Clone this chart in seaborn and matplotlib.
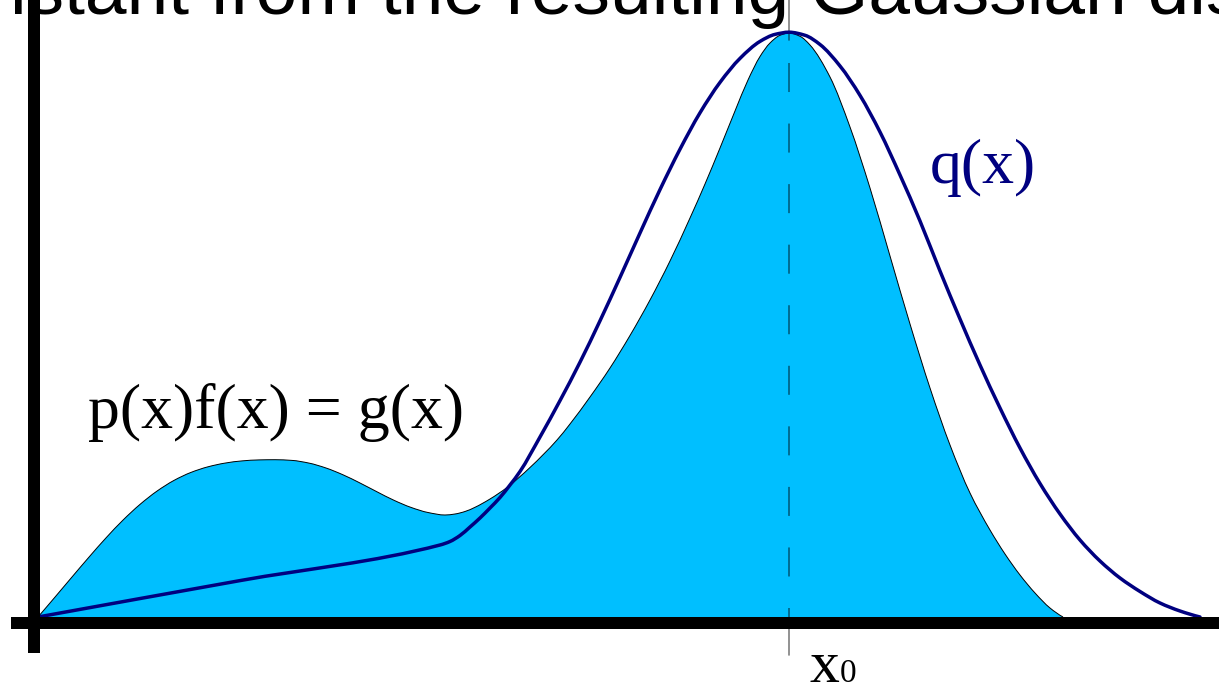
import numpy as np
import matplotlib
matplotlib.use("Agg")
import matplotlib.pyplot as plt
from matplotlib.path import Path
from matplotlib.patches import PathPatch
import seaborn as sns

# g(x) = p(x) f(x), sampled along the curve (x, height)
g_x = [0.00, 0.17, 0.34, 0.51, 0.68, 0.85, 1.02, 1.19, 1.36, 1.53, 1.70, 1.87,
       2.04, 2.21, 2.37, 2.54, 2.71, 2.88, 3.05, 3.22, 3.39, 3.56, 3.73, 3.90,
       4.07, 4.17, 4.27, 4.37, 4.52, 4.69, 4.92, 5.19, 5.32, 5.52, 5.72, 5.92,
       6.12, 6.32, 6.52, 6.67, 6.82, 6.97, 7.10, 7.22, 7.32, 7.42, 7.51, 7.62,
       7.72, 7.92, 8.12, 8.32, 8.52, 8.72, 8.92, 9.12, 9.32, 9.52, 9.67, 9.82,
       9.97, 10.12, 10.25]
g_y = [0.00, 0.199, 0.40, 0.599, 0.791, 0.969, 1.126, 1.259, 1.366, 1.446,
       1.502, 1.539, 1.561, 1.571, 1.573, 1.566, 1.539, 1.49, 1.422, 1.34,
       1.252, 1.167, 1.096, 1.045, 1.02, 1.03, 1.055, 1.097, 1.18, 1.295,
       1.495, 1.77, 1.93, 2.20, 2.49, 2.815, 3.17, 3.56, 3.99, 4.33, 4.69,
       5.06, 5.37, 5.605, 5.74, 5.817, 5.84, 5.807, 5.72, 5.40, 4.90, 4.29,
       3.61, 2.93, 2.29, 1.72, 1.24, 0.87, 0.63, 0.42, 0.24, 0.09, 0.00]

# q(x): proposal density (straight ramp, then a bell around x0)
q_x = [0.00, 2.02, 4.02, 4.12, 4.22, 4.32, 4.42, 4.52, 4.62, 4.72, 4.82, 5.02,
       5.22, 5.42, 5.62, 5.82, 6.02, 6.22, 6.42, 6.62, 6.82, 7.02, 7.22, 7.37,
       7.51, 7.67, 7.82, 8.02, 8.22, 8.42, 8.62, 8.82, 9.02, 9.22, 9.42, 9.62,
       9.82, 10.02, 10.22, 10.42, 10.62, 10.82, 11.02, 11.22, 11.42, 11.62]
q_y = [0.00, 0.364, 0.72, 0.755, 0.815, 0.90, 0.99, 1.09, 1.195, 1.32, 1.455,
       1.80, 2.164, 2.548, 2.962, 3.396, 3.84, 4.274, 4.678, 5.042, 5.346,
       5.586, 5.756, 5.826, 5.848, 5.817, 5.725, 5.51, 5.216, 4.85, 4.42, 3.96,
       3.46, 2.98, 2.52, 2.09, 1.69, 1.335, 1.03, 0.77, 0.56, 0.39, 0.255, 0.14,
       0.06, 0.00]

x0 = 7.51

label_g = "p(x)f(x) = g(x)"
label_q = "q(x)"
label_x0 = ("x", "0")
headline = "istant from the resulting Gaussian distribution"

FILL = "#00BFFF"
NAVY = "#000080"


def _end_slope(h0, h1, d0, d1):
    m = ((2 * h0 + h1) * d0 - h0 * d1) / (h0 + h1)
    if np.sign(m) != np.sign(d0):
        m = 0.0
    elif np.sign(d0) != np.sign(d1) and abs(m) > abs(3 * d0):
        m = 3 * d0
    return m


def hermite_slopes(x, y):
    x = np.asarray(x, float)
    y = np.asarray(y, float)
    h = np.diff(x)
    d = np.diff(y) / h
    m = np.zeros(len(x))
    for k in range(1, len(x) - 1):
        if d[k - 1] * d[k] <= 0:
            m[k] = 0.0
        else:
            w1 = 2 * h[k] + h[k - 1]
            w2 = h[k] + 2 * h[k - 1]
            m[k] = (w1 + w2) / (w1 / d[k - 1] + w2 / d[k])
    m[0] = _end_slope(h[0], h[1], d[0], d[1])
    m[-1] = _end_slope(h[-1], h[-2], d[-1], d[-2])
    return m


def bezier_path(x, y):
    """Smooth Bezier path through the sampled points (monotone Hermite)."""
    m = hermite_slopes(x, y)
    verts = [(x[0], y[0])]
    codes = [Path.MOVETO]
    for i in range(len(x) - 1):
        h = x[i + 1] - x[i]
        verts += [(x[i] + h / 3, y[i] + m[i] * h / 3),
                  (x[i + 1] - h / 3, y[i + 1] - m[i + 1] * h / 3),
                  (x[i + 1], y[i + 1])]
        codes += [Path.CURVE4] * 3
    return verts, codes


sns.set_theme(style="white")
plt.rcParams["lines.scale_dashes"] = False

fig = plt.figure(figsize=(12.19, 6.87), dpi=100)
ax = fig.add_axes([0, 0, 1, 1])
ax.set_xlim(-0.38, 11.81)
ax.set_ylim(-0.70, 6.17)
ax.axis("off")

# shaded area under g(x)
gv, gc = bezier_path(g_x, g_y)
fill_verts = gv + [(g_x[0], 0.0), (g_x[0], 0.0)]
fill_codes = gc + [Path.LINETO, Path.CLOSEPOLY]
ax.add_patch(PathPatch(Path(fill_verts, fill_codes), facecolor=FILL,
                       edgecolor="none", zorder=1))
ax.add_patch(PathPatch(Path(gv, gc), facecolor="none", edgecolor="black",
                       lw=0.7, zorder=2))

# guide line at x0
ax.plot([x0, x0], [6.3, 5.77], color="black", alpha=0.5, lw=1.2, zorder=3)
ax.plot([x0, x0], [5.54, 0.0], color="black", alpha=0.5, lw=1.2,
        linestyle=(0, (20.9, 22.7)), zorder=3)
ax.plot([x0, x0], [-0.12, -0.38], color="black", alpha=0.5, lw=1.2, zorder=3)

# q(x)
qv, qc = bezier_path(q_x, q_y)
ax.add_patch(PathPatch(Path(qv, qc), facecolor="none", edgecolor=NAVY,
                       lw=2.5, zorder=4, capstyle="round"))

# heavy coordinate axes
ax.plot([-0.27, 12.0], [-0.06, -0.06], color="black", lw=8.64,
        solid_capstyle="butt", zorder=5)
ax.plot([-0.04, -0.04], [-0.36, 6.4], color="black", lw=8.64,
        solid_capstyle="butt", zorder=5)

serif = ["Liberation Serif", "DejaVu Serif"]
ax.text(0.50, 1.89, label_g, fontsize=46, family=serif, color="black",
        ha="left", va="baseline", zorder=6)
ax.text(8.92, 4.34, label_q, fontsize=46, family=serif, color=NAVY,
        ha="left", va="baseline", zorder=6)
ax.text(7.72, -0.655, label_x0[0], fontsize=43, family=serif, color="black",
        ha="left", va="baseline", zorder=6)
ax.text(8.02, -0.655, label_x0[1], fontsize=24, family=serif, color="black",
        ha="left", va="baseline", zorder=6)

fig.text(9.5 / 1219, 1 - 14 / 687, headline, fontsize=54,
         family=["Liberation Sans", "DejaVu Sans"], color="black",
         ha="left", va="baseline", zorder=7)

fig.savefig("out.png", dpi=100, facecolor="white")
